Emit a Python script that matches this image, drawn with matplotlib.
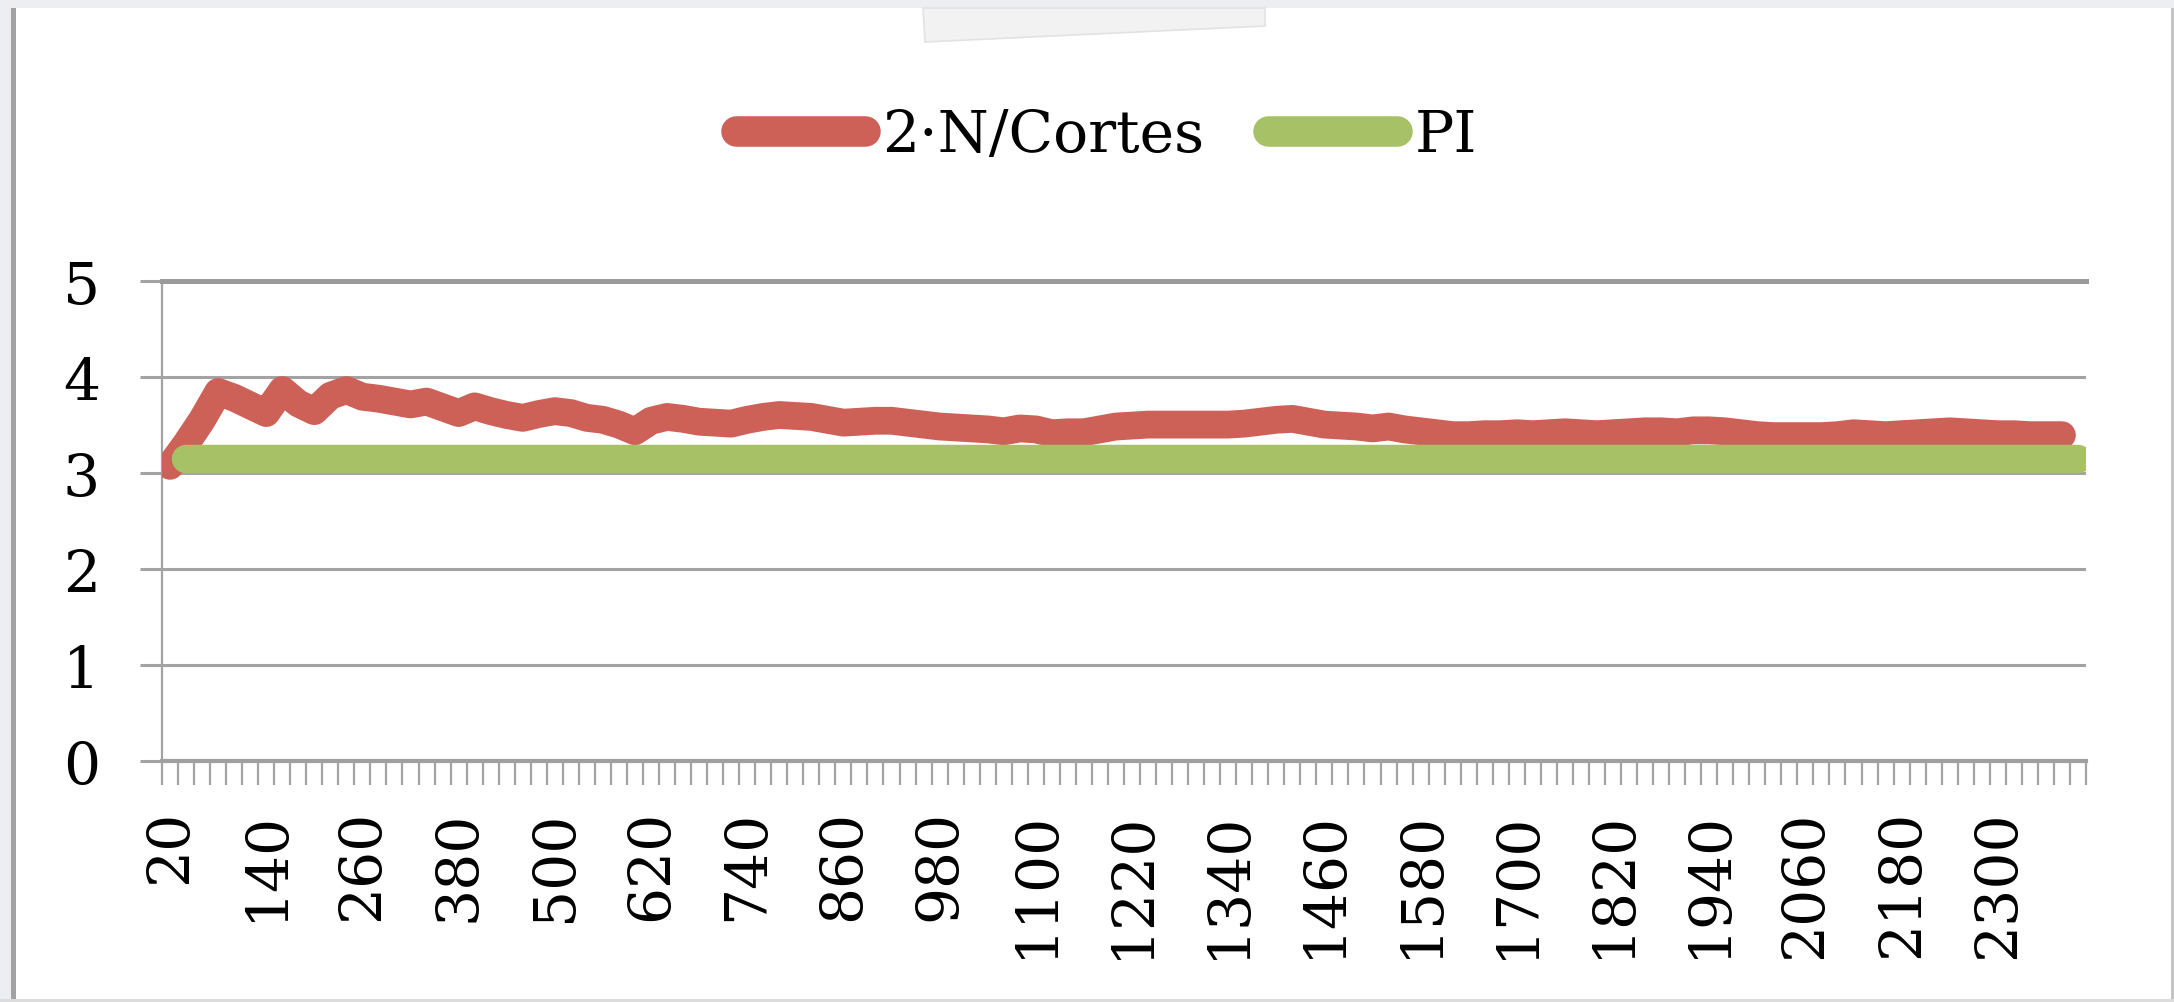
import numpy as np
import matplotlib
matplotlib.use("Agg")
import matplotlib.pyplot as plt
from matplotlib.patches import Rectangle, Polygon
from matplotlib.lines import Line2D

# ---- data ----
categories = list(range(20, 2420, 20))          # 120 categories: 20, 40, ..., 2400
ratio_values = [
    3.07, 3.30, 3.55, 3.84, 3.78, 3.70, 3.62, 3.86, 3.72, 3.64,
    3.80, 3.86, 3.79, 3.77, 3.74, 3.71, 3.74, 3.68, 3.62, 3.69,
    3.64, 3.60, 3.57, 3.61, 3.64, 3.62, 3.57, 3.55, 3.50, 3.43,
    3.54, 3.58, 3.56, 3.53, 3.52, 3.51, 3.55, 3.58, 3.60, 3.59,
    3.58, 3.55, 3.52, 3.53, 3.54, 3.54, 3.52, 3.50, 3.48, 3.47,
    3.46, 3.45, 3.43, 3.46, 3.45, 3.41, 3.42, 3.42, 3.45, 3.48,
    3.49, 3.50, 3.50, 3.50, 3.50, 3.50, 3.50, 3.51, 3.53, 3.55,
    3.56, 3.53, 3.50, 3.49, 3.48, 3.46, 3.48, 3.45, 3.43, 3.41,
    3.39, 3.39, 3.40, 3.40, 3.41, 3.40, 3.41, 3.42, 3.41, 3.40,
    3.41, 3.42, 3.43, 3.43, 3.42, 3.44, 3.44, 3.43, 3.41, 3.39,
    3.38, 3.38, 3.38, 3.38, 3.39, 3.41, 3.40, 3.39, 3.40, 3.41,
    3.42, 3.43, 3.42, 3.41, 3.40, 3.40, 3.39, 3.39, 3.39, np.nan,
]
pi_values = [np.nan] + [3.14159] * 119
series_labels = ["2\u00b7N/Cortes", "PI"]
y_ticks = [0, 1, 2, 3, 4, 5]
label_step = 6

RED = "#CD6158"
GREEN = "#A7C167"
GRID = "#a3a3a3"

plt.rcParams["font.family"] = ["DejaVu Serif"]
fs = 42

fig = plt.figure(figsize=(21.74, 10.03), dpi=100)
fig.patch.set_facecolor("white")

# screenshot frame decorations
fig.add_artist(Rectangle((0, 0), 11 / 2174, 1, transform=fig.transFigure,
                         facecolor="#eceef1", edgecolor="none", zorder=0))
fig.add_artist(Rectangle((0, 1 - 9 / 1003), 1, 9 / 1003, transform=fig.transFigure,
                         facecolor="#eceef1", edgecolor="none", zorder=0))
fig.add_artist(Rectangle((11 / 2174, 0), 5 / 2174, 1 - 9 / 1003, transform=fig.transFigure,
                         facecolor="#a2a2a2", edgecolor="none", zorder=1))
fig.add_artist(Rectangle((2171 / 2174, 0), 3 / 2174, 1 - 9 / 1003, transform=fig.transFigure,
                         facecolor="#c4c4c4", edgecolor="none", zorder=1))
fig.add_artist(Rectangle((0, 0), 1, 3 / 1003, transform=fig.transFigure,
                         facecolor="#dcdcdc", edgecolor="none", zorder=1))
tape = [(923, 9), (1265, 9), (1265, 27), (925, 43)]
fig.add_artist(Polygon([(x / 2174, 1 - y / 1003) for x, y in tape], closed=True,
                       transform=fig.transFigure, facecolor="#f2f2f2",
                       edgecolor="#e2e2e2", linewidth=1.2, zorder=1))

ax = fig.add_axes([162 / 2174, 1 - 761.6 / 1003, (2086 - 162) / 2174, (761.6 - 281.6) / 1003])
x = np.arange(len(categories))

ax.plot(x, ratio_values, color=RED, lw=20, solid_capstyle="round",
        solid_joinstyle="round", zorder=3, label=series_labels[0])
ax.plot(x, pi_values, color=GREEN, lw=20.5, solid_capstyle="round",
        solid_joinstyle="round", zorder=4, label=series_labels[1])

ax.set_xlim(-0.5, len(categories) - 0.5)
ax.set_ylim(0, 5)
ax.set_yticks(y_ticks)
ax.set_yticklabels([str(v) for v in y_ticks])
ax.yaxis.grid(True, color=GRID, lw=2.2)
ax.set_axisbelow(True)

ax.set_xticks(x[::label_step])
ax.set_xticklabels([str(categories[i]) for i in x[::label_step]], rotation=90)
ax.set_xticks(np.arange(-0.5, len(categories), 1.0), minor=True)

ax.tick_params(axis="x", which="major", length=0, pad=35, labelsize=fs)
ax.tick_params(axis="x", which="minor", length=17, width=1.6, color=GRID, direction="out")
ax.tick_params(axis="y", which="major", length=15.8, width=2.2, color=GRID, pad=29, labelsize=fs)
for lbl in ax.get_xticklabels():
    lbl.set_va("top")

ax.spines["right"].set_visible(False)
ax.spines["top"].set_color("#9a9a9a")
ax.spines["top"].set_linewidth(3.6)
ax.spines["bottom"].set_color("#a0a0a0")
ax.spines["bottom"].set_linewidth(3.0)
ax.spines["left"].set_color(GRID)
ax.spines["left"].set_linewidth(1.6)

handles = [Line2D([0], [0], color=RED, lw=22, solid_capstyle="round"),
           Line2D([0], [0], color=GREEN, lw=22, solid_capstyle="round")]
fig.legend(handles, series_labels, loc="center", bbox_to_anchor=(0.509, 0.864),
           ncol=2, frameon=False, fontsize=fs, handlelength=2.2,
           handletextpad=0.3, columnspacing=1.1)

fig.savefig("out.png", dpi=100, facecolor="white")
